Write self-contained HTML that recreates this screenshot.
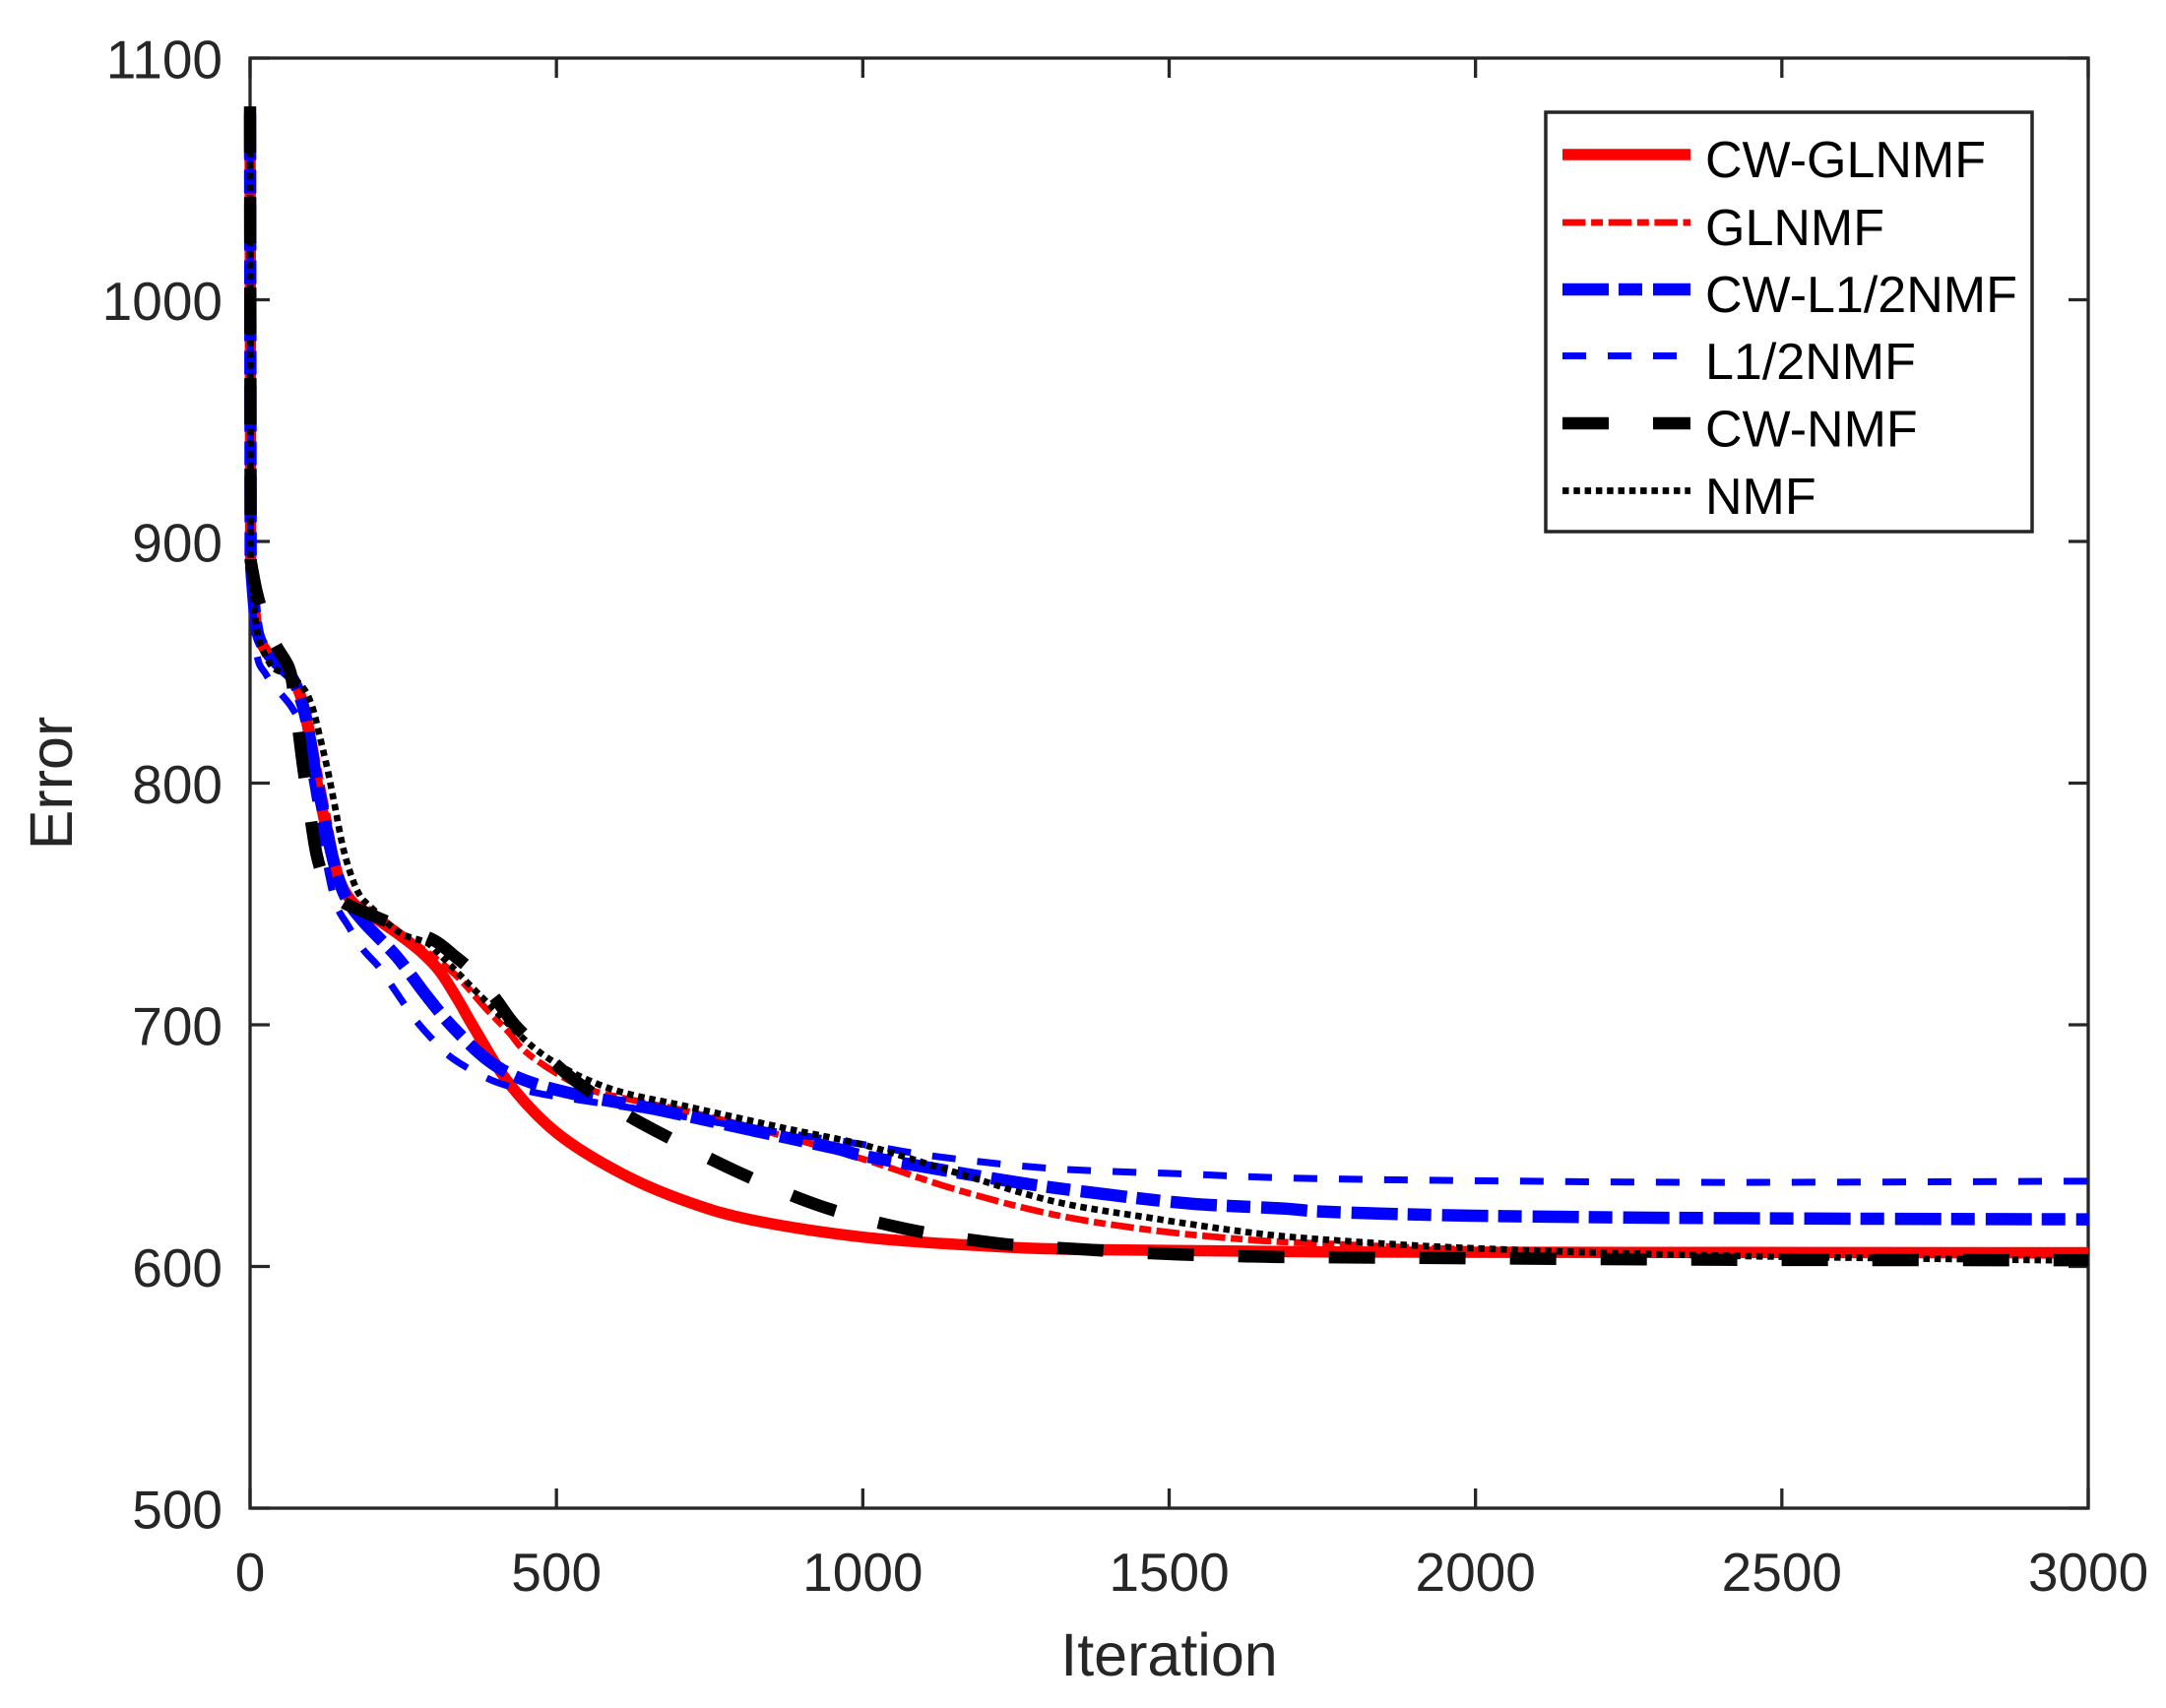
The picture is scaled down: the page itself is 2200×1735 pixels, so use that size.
<!DOCTYPE html>
<html>
<head>
<meta charset="utf-8">
<style>
  html,body{margin:0;padding:0;background:#fff;}
  svg{display:block;}
  text{font-family:"Liberation Sans",Arial,sans-serif;}
</style>
</head>
<body>
<svg id="chart" xmlns="http://www.w3.org/2000/svg" width="2200" height="1735" viewBox="0 0 2200 1735">
  <rect x="0" y="0" width="2200" height="1735" fill="#fff"/>
  <g id="axes" stroke="#262626" stroke-width="3.3" fill="none">
    <rect x="254" y="59" width="1867" height="1473"/>
  </g>
  <g id="ticks" stroke="#262626" stroke-width="3.3"></g>
  <g id="ticklabels" fill="#262626" font-size="55"></g>
  <text x="1187.5" y="1702" font-size="61" fill="#262626" text-anchor="middle">Iteration</text>
  <text transform="translate(73,795.5) rotate(-90)" font-size="61" fill="#262626" text-anchor="middle">Error</text>
  <g id="data" fill="none" stroke-linecap="butt" stroke-linejoin="round"></g>
  <g id="legend">
    <rect x="1570" y="114" width="494" height="426" fill="#fff" stroke="#262626" stroke-width="3.5"/>
    <line x1="1587" y1="157" x2="1717" y2="157" stroke="#ff0000" stroke-width="11.5"/>
    <line x1="1587" y1="226" x2="1717" y2="226" stroke="#ff0000" stroke-width="6.7" stroke-dasharray="23.5 5.6 12 5.6"/>
    <line x1="1587" y1="294" x2="1717" y2="294" stroke="#0000ff" stroke-width="12.5" stroke-dasharray="47 10 24 11"/>
    <line x1="1587" y1="361.5" x2="1717" y2="361.5" stroke="#0000ff" stroke-width="7" stroke-dasharray="24 22"/>
    <line x1="1587" y1="430" x2="1717" y2="430" stroke="#000000" stroke-width="12.5" stroke-dasharray="47 45"/>
    <line x1="1587" y1="498.5" x2="1717" y2="498.5" stroke="#000000" stroke-width="6.7" stroke-dasharray="6.5 4.8"/>
    <g font-size="52" fill="#000">
      <text x="1732" y="180">CW-GLNMF</text>
      <text x="1732" y="249">GLNMF</text>
      <text x="1732" y="317">CW-L1/2NMF</text>
      <text x="1732" y="385">L1/2NMF</text>
      <text x="1732" y="453.5">CW-NMF</text>
      <text x="1732" y="522">NMF</text>
    </g>
  </g>
</svg>
<script>
(function(){
  var NS="http://www.w3.org/2000/svg";
  function X(v){return 254+v*1867/3000;}
  function Y(e){return 59+(1100-e)*1473/600;}
  var ticks=document.getElementById('ticks');
  var tl=document.getElementById('ticklabels');
  function line(g,x1,y1,x2,y2){var l=document.createElementNS(NS,'line');l.setAttribute('x1',x1);l.setAttribute('y1',y1);l.setAttribute('x2',x2);l.setAttribute('y2',y2);g.appendChild(l);}
  function txt(g,x,y,s,anchor){var t=document.createElementNS(NS,'text');t.setAttribute('x',x);t.setAttribute('y',y);t.setAttribute('text-anchor',anchor);t.textContent=s;g.appendChild(t);}
  for(var v=0;v<=3000;v+=500){
    var x=X(v);
    line(ticks,x,1532,x,1512);
    line(ticks,x,59,x,79);
    txt(tl,x,1616,String(v),'middle');
  }
  for(var e=500;e<=1100;e+=100){
    var y=Y(e);
    line(ticks,254,y,274,y);
    line(ticks,2121,y,2101,y);
    txt(tl,226,y+20.5,String(e),'end');
  }
  function mkPath(top,pts){
    var p=pts.map(function(a){return [X(a[0]),Y(a[1])];});
    var d='M'+X(0).toFixed(2)+','+Y(top).toFixed(2)+' L'+p[0][0].toFixed(2)+','+p[0][1].toFixed(2);
    for(var i=0;i<p.length-1;i++){
      var p0=p[i-1]||p[i],p1=p[i],p2=p[i+1],p3=p[i+2]||p[i+1];
      var c1x=p1[0]+(p2[0]-p0[0])/6,c1y=p1[1]+(p2[1]-p0[1])/6;
      var c2x=p2[0]-(p3[0]-p1[0])/6,c2y=p2[1]-(p3[1]-p1[1])/6;
      d+=' C'+c1x.toFixed(2)+','+c1y.toFixed(2)+' '+c2x.toFixed(2)+','+c2y.toFixed(2)+' '+p2[0].toFixed(2)+','+p2[1].toFixed(2);
    }
    return d;
  }
  var series=[
    {c:'#ff0000',w:11.5,da:null,top:1077,pts:[[1,892],[8,870],[15,860],[31,853],[50,848],[70,843],[85,834],[95,822],[106,805],[117,790],[133,771],[149,758],[170,750],[200,745],[245,737],[280,730],[310,722],[340,710],[365,699],[422,676],[502,655],[610,638],[717,626.5],[824,619],[1006,612],[1200,608.5],[1365,607],[1761,606],[2400,605.8],[3000,605.7]]},
    {c:'#ff0000',w:6.7,da:'23.5 5.6 12 5.6',top:1077,pts:[[1,892],[8,870],[15,860],[31,853],[50,848],[75,842],[90,833],[100,822],[112,805],[123,791],[138,771],[153,758],[175,750],[200,747],[245,738],[300,728],[342,719],[384,707],[422,697],[449,689],[500,680],[556,673],[640,668],[717,664],[856,655],[1006,644],[1150,632],[1311,621.5],[1472,615],[1633,611],[1750,609.5],[2000,607],[2400,605.3],[3000,604.5]]},
    {c:'#0000ff',w:12.5,da:'47 10 24 11',top:1077,pts:[[1,892],[8,870],[15,860],[31,853],[50,848],[70,843],[85,833],[95,822],[106,805],[117,791],[133,771],[149,757],[165,749],[191,741],[240,728],[288,712],[331,699],[390,685],[449,677],[535,671],[663,665],[808,657],[953,649],[1017,645],[1247,635],[1392,630],[1536,626],[1686,624],[1761,622.6],[2000,621],[2400,620],[3000,619.5]]},
    {c:'#0000ff',w:7,da:'24 22',top:1077,pts:[[1,892],[10,855],[26,845],[47,838],[69,831],[85,822],[100,803],[112,785],[125,766],[140,750],[160,741],[185,731],[210,724],[237,714],[267,703],[294,695],[331,686],[395,677],[464,672],[535,669],[663,664],[800,658],[1000,650.5],[1124,645.4],[1311,640.5],[1525,638.3],[1713,636.5],[2000,635.5],[2400,634.8],[3000,635.3]]},
    {c:'#000000',w:12.5,da:'47 45',top:1080,pts:[[1,892],[10,880],[20,871],[40,858],[63,848],[71,838],[80,820],[87,806],[98,787],[109,770],[125,758],[150,751],[202,745],[250,740],[300,735],[331,729],[363,722],[400,711],[432,700],[480,688],[535,676],[600,665],[663,656],[797,639],[931,625],[1070,615.6],[1220,609.6],[1365,607],[1515,605],[1662,604],[1761,603.8],[2400,602.8],[3000,602.6]]},
    {c:'#000000',w:6.7,da:'6.5 4.8',top:1080,pts:[[1,892],[8,870],[15,859],[31,850],[42,847],[60,845],[85,840],[101,832],[115,818],[127,805],[138,791],[154,771],[176,755],[200,748],[245,738],[288,734],[310,729],[368,714],[384,710],[476,688],[583,674],[717,666],[877,657],[1006,650],[1150,639],[1311,627],[1472,620],[1633,614],[1761,611],[2000,607.5],[2400,604.5],[3000,602.4]]}
  ];
  var g=document.getElementById('data');
  series.forEach(function(s){
    var p=document.createElementNS(NS,'path');
    p.setAttribute('d',mkPath(s.top,s.pts));
    p.setAttribute('stroke',s.c);
    p.setAttribute('stroke-width',s.w);
    if(s.da)p.setAttribute('stroke-dasharray',s.da);
    g.appendChild(p);
  });
})();
</script>
</body>
</html>
